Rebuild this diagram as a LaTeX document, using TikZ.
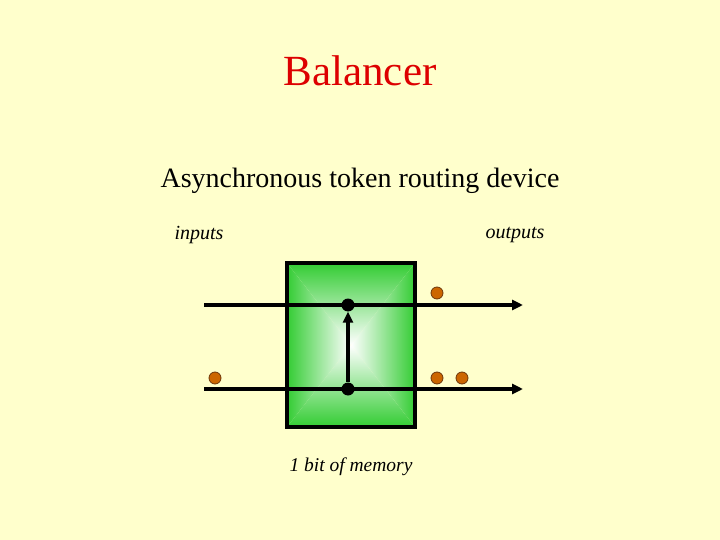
\documentclass[tikz,border=0pt]{standalone}
\usepackage{fontspec}
\setmainfont{Liberation Serif}
\usetikzlibrary{arrows.meta}
\definecolor{bg}{RGB}{255,255,204}
\definecolor{titlered}{RGB}{221,0,0}
\definecolor{boxgreen}{RGB}{51,204,51}
\definecolor{token}{RGB}{204,102,0}
\definecolor{tokenedge}{RGB}{110,55,10}
\tikzset{
  wire/.style={line width=3.5pt,-{Triangle[length=11pt,width=10pt]}},
  junction/.style={circle,fill=black,inner sep=0pt,minimum size=13pt},
  tokendot/.style={circle,fill=token,draw=tokenedge,line width=0.8pt,inner sep=0pt,minimum size=12pt},
  label/.style={font=\fontsize{20}{24}\selectfont\itshape,inner sep=0pt}
}
\begin{document}
\begin{tikzpicture}[x=1pt,y=-1pt]
\useasboundingbox (0,0) rectangle (720,540);
\fill[bg] (0,0) rectangle (720,540);
\node[text=titlered,font=\fontsize{43}{50}\selectfont,inner sep=0pt] (title) at (360,71) {Balancer};
\node[font=\fontsize{28}{34}\selectfont,inner sep=0pt] (subtitle) at (360,181) {Asynchronous token routing device};
\node[label] (inputs) at (199,235) {inputs};
\node[label] (outputs) at (515,235) {outputs};
\node[label,font=\fontsize{19.5}{24}\selectfont\itshape] (memory) at (351,467) {1 bit of memory};
% box with "from centre" gradient
\begin{scope}
\clip (287,263) -- (415,263) -- (351,345) -- cycle;
\shade[top color=boxgreen,bottom color=white] (287,263) rectangle (415,345);
\end{scope}
\begin{scope}
\clip (287,427) -- (415,427) -- (351,345) -- cycle;
\shade[top color=white,bottom color=boxgreen] (287,345) rectangle (415,427);
\end{scope}
\begin{scope}
\clip (287,263) -- (287,427) -- (351,345) -- cycle;
\shade[left color=boxgreen,right color=white] (287,263) rectangle (351,427);
\end{scope}
\begin{scope}
\clip (415,263) -- (415,427) -- (351,345) -- cycle;
\shade[left color=white,right color=boxgreen] (351,263) rectangle (415,427);
\end{scope}
\node[draw=black,line width=4pt,minimum width=128pt,minimum height=164pt,inner sep=0pt] (box) at (351,345) {};
% wires
\coordinate (in1) at (204,305);
\coordinate (out1) at (523,305);
\coordinate (in2) at (204,389);
\coordinate (out2) at (523,389);
\draw[wire] (in1) -- (out1);
\draw[wire] (in2) -- (out2);
\node[junction] (top) at (348,305) {};
\node[junction] (bot) at (348,389) {};
\draw[line width=3.5pt,-{Triangle[length=11pt,width=10pt]}] (bot) -- (top);
% tokens
\node[tokendot] (t1) at (437,293) {};
\node[tokendot] (t2) at (215,378) {};
\node[tokendot] (t3) at (437,378) {};
\node[tokendot] (t4) at (462,378) {};
\end{tikzpicture}
\end{document}
